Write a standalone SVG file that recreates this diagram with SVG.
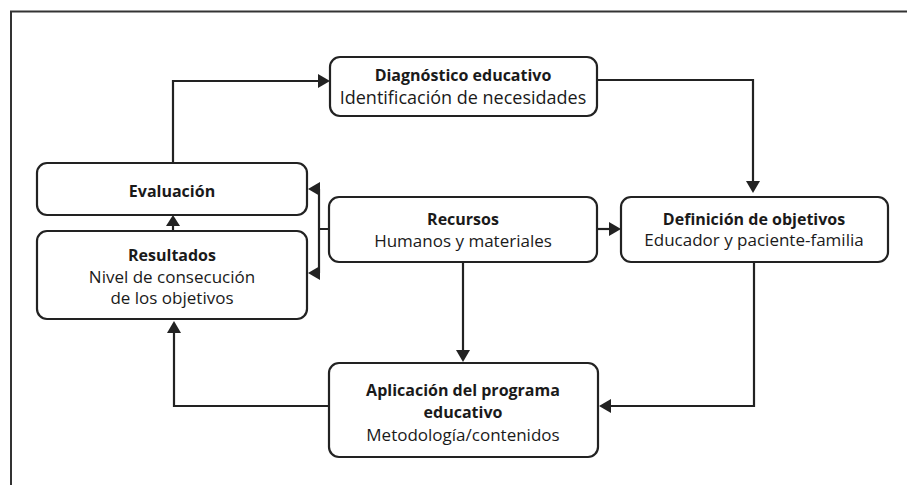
<svg xmlns="http://www.w3.org/2000/svg" width="907" height="485" viewBox="0 0 907 485">
<defs>
<style>
.box{fill:#fff;stroke:#222;stroke-width:2.2}
.t{font-family:"Open Sans","Noto Sans",sans-serif;font-size:17px;fill:#1a1a1a;text-anchor:middle}
.b{font-weight:bold;font-size:16px}
.c{fill:none;stroke:#222;stroke-width:2.2}
.h{fill:#222}
</style>
</defs>
<rect x="0" y="0" width="907" height="485" fill="#fff"/>
<path d="M11,485 V11.5 H907" fill="none" stroke="#333" stroke-width="2"/>
<g id="connectors">
<path class="c" d="M173,163 V81 H318"/>
<path class="h" d="M318,74 L330,81 L318,88 Z"/>
<path class="c" d="M597,80 H753 V182"/>
<path class="h" d="M746,181 L753,193 L760,181 Z"/>
<path class="c" d="M173,231 V225"/>
<path class="h" d="M166,226 L173,215 L180,226 Z"/>
<path class="c" d="M329,229 H319 M319,189 V273"/>
<path class="h" d="M320,182 L308,189 L320,196 Z"/>
<path class="h" d="M320,266 L308,273 L320,280 Z"/>
<path class="c" d="M597,229 H610"/>
<path class="h" d="M609,222 L621,229 L609,236 Z"/>
<path class="c" d="M463,262 V351"/>
<path class="h" d="M456,350 L463,362 L470,350 Z"/>
<path class="c" d="M754,262 V406 H610"/>
<path class="h" d="M611,399 L599,406 L611,413 Z"/>
<path class="c" d="M329,406 H174 V332"/>
<path class="h" d="M167,333 L174,321 L181,333 Z"/>
</g>
<g id="diagnostico">
<rect class="box" x="330" y="57" width="267" height="59" rx="10"/>
<text class="t b" x="463" y="81">Diagnóstico educativo</text>
<text class="t" x="463" y="104" style="font-size:18px">Identificación de necesidades</text>
</g>
<g id="evaluacion">
<rect class="box" x="37" y="163" width="270" height="52" rx="10"/>
<text class="t b" x="172" y="197">Evaluación</text>
</g>
<g id="resultados">
<rect class="box" x="37" y="231" width="270" height="88" rx="10"/>
<text class="t b" x="172" y="261">Resultados</text>
<text class="t" x="172" y="283">Nivel de consecución</text>
<text class="t" x="172" y="304">de los objetivos</text>
</g>
<g id="recursos">
<rect class="box" x="329" y="197" width="268" height="65" rx="10"/>
<text class="t b" x="463" y="225">Recursos</text>
<text class="t" x="463" y="247">Humanos y materiales</text>
</g>
<g id="definicion">
<rect class="box" x="621" y="197" width="267" height="65" rx="10"/>
<text class="t b" x="754" y="225">Definición de objetivos</text>
<text class="t" x="754" y="246">Educador y paciente-familia</text>
</g>
<g id="aplicacion">
<rect class="box" x="329" y="363" width="269" height="94" rx="10"/>
<text class="t b" x="463" y="396">Aplicación del programa</text>
<text class="t b" x="463" y="418">educativo</text>
<text class="t" x="463" y="441">Metodología/contenidos</text>
</g>
</svg>
